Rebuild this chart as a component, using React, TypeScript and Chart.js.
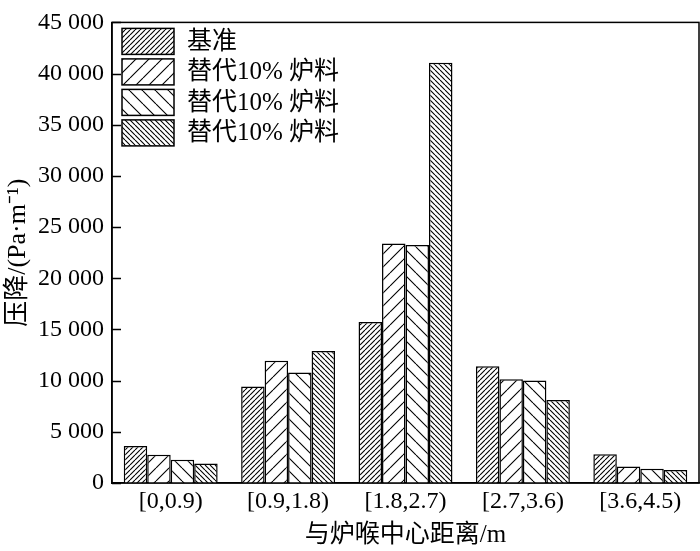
import React, { useEffect, useRef } from "react";
import { Chart, registerables } from "chart.js";

Chart.register(...registerables);

// Data
const categories = ["[0,0.9)", "[0.9,1.8)", "[1.8,2.7)", "[2.7,3.6)", "[3.6,4.5)"];
const seriesNames = ["基准", "替代10% 炉料", "替代10% 炉料", "替代10% 炉料"];
const baseline = [3620, 9440, 15730, 11410, 2800];
const replaceA = [2770, 11950, 23390, 10140, 1620];
const replaceB = [2260, 10800, 23260, 10010, 1400];
const replaceC = [1910, 12900, 41060, 8100, 1270];
const yMax = 45000;
const yStep = 5000;

const FONT = '"Liberation Serif", "Times New Roman", "Noto Sans CJK SC", serif';

// hatch pattern tile: spacing in px, dir "/" or "\"
function makeHatch(ctx: CanvasRenderingContext2D, s: number, dir: string) {
  const c = document.createElement("canvas");
  c.width = s;
  c.height = s;
  const g = c.getContext("2d")!;
  g.fillStyle = "#fff";
  g.fillRect(0, 0, s, s);
  g.strokeStyle = "#000";
  g.lineWidth = 1.1;
  g.beginPath();
  for (const o of [-s, 0, s]) {
    if (dir === "/") {
      g.moveTo(o, s);
      g.lineTo(o + s, 0);
    } else {
      g.moveTo(o, 0);
      g.lineTo(o + s, s);
    }
  }
  g.stroke();
  return ctx.createPattern(c, "repeat")!;
}

const fmt = (v: number) => String(v).replace(/\B(?=(\d{3})+(?!\d))/g, " ");

const App: React.FC = () => {
  const canvasRef = useRef<HTMLCanvasElement | null>(null);
  const chartRef = useRef<Chart | null>(null);

  useEffect(() => {
    document.body.style.margin = "0";
    if (!canvasRef.current) return;
    const ctx = canvasRef.current.getContext("2d");
    if (!ctx) return;
    if (chartRef.current) chartRef.current.destroy();

    const fills = [
      makeHatch(ctx, 5, "/"),
      makeHatch(ctx, 13, "/"),
      makeHatch(ctx, 13, "\\"),
      makeHatch(ctx, 5, "\\"),
    ];
    const values = [baseline, replaceA, replaceB, replaceC];

    // frame box + inward y ticks
    const framePlugin = {
      id: "frame",
      afterDatasetsDraw(chart: any) {
        const { ctx: c, chartArea: a } = chart;
        const y = chart.scales.y;
        c.save();
        c.strokeStyle = "#000";
        c.lineWidth = 1.5;
        c.strokeRect(a.left, a.top, a.right - a.left, a.bottom - a.top);
        c.beginPath();
        y.ticks.forEach((t: any) => {
          const py = Math.round(y.getPixelForValue(t.value)) + 0.5;
          c.moveTo(a.left, py);
          c.lineTo(a.left + 9, py);
        });
        c.stroke();
        c.restore();
      },
    };

    // legend drawn inside the plot area, top-left
    const legendPlugin = {
      id: "innerLegend",
      afterDraw(chart: any) {
        const { ctx: c, chartArea: a } = chart;
        c.save();
        c.font = `25px ${FONT}`;
        c.textBaseline = "middle";
        c.fillStyle = "#000";
        chart.data.datasets.forEach((ds: any, i: number) => {
          const bx = a.left + 10;
          const by = a.top + 6 + i * 30.5;
          c.fillStyle = ds.backgroundColor;
          c.fillRect(bx, by, 52, 26);
          c.strokeStyle = "#000";
          c.lineWidth = 1.5;
          c.strokeRect(bx, by, 52, 26);
          c.fillStyle = "#000";
          c.fillText(ds.label, bx + 65, by + 14);
        });
        c.restore();
      },
    };

    chartRef.current = new Chart(ctx, {
      type: "bar",
      data: {
        labels: categories,
        datasets: values.map((d, i) => ({
          label: seriesNames[i],
          data: d,
          backgroundColor: fills[i] as any,
          borderColor: "#000",
          borderWidth: 1.5,
          categoryPercentage: 0.8,
          barPercentage: 1.0,
        })),
      },
      options: {
        responsive: false,
        animation: false,
        layout: { padding: { top: 11, right: 1, left: 0, bottom: 0 } },
        plugins: {
          legend: { display: false },
          tooltip: { enabled: false },
        },
        scales: {
          x: {
            grid: { display: false, drawTicks: false },
            border: { display: true, color: "#000", width: 1.5 },
            ticks: { color: "#000", padding: 4, font: { family: FONT, size: 24 } },
            title: {
              display: true,
              text: "与炉喉中心距离/m",
              color: "#000",
              font: { family: FONT, size: 25 },
              padding: { top: 0, bottom: 1 },
            },
            afterFit: (s: any) => {
              s.height = 68;
            },
          },
          y: {
            min: 0,
            max: yMax,
            grid: { display: false, drawTicks: false },
            border: { display: true, color: "#000", width: 1.5 },
            ticks: {
              stepSize: yStep,
              color: "#000",
              padding: 8,
              font: { family: FONT, size: 24 },
              callback: (v: any) => fmt(Number(v)),
            },
            title: {
              display: true,
              text: "压降/(Pa·m⁻¹)",
              color: "#000",
              font: { family: FONT, size: 26 },
              padding: { top: 3, bottom: 0 },
            },
            afterFit: (s: any) => {
              s.width = 112;
            },
          },
        },
      },
      plugins: [framePlugin, legendPlugin],
    });

    return () => {
      if (chartRef.current) {
        chartRef.current.destroy();
        chartRef.current = null;
      }
    };
  }, []);

  return (
    <div style={{ width: "700px", height: "551px" }}>
      <canvas ref={canvasRef} width={700} height={551}></canvas>
    </div>
  );
};

export default App;
